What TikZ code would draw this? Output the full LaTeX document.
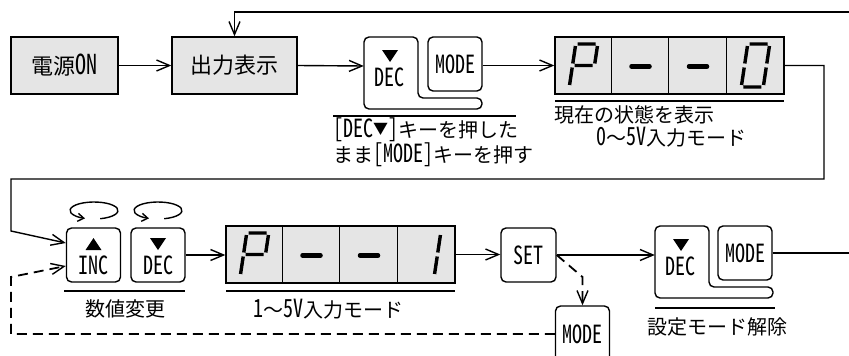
\documentclass[tikz,border=0pt]{standalone}
\usepackage{fontspec}
\setmainfont{Noto Sans CJK JP}
\newfontfamily\hw{Noto Sans CJK JP}[RawFeature=+hwid, Scale=1.25, FakeStretch=0.8]
\usetikzlibrary{arrows.meta}
\tikzset{
  ln/.style={line width=1.4pt},
  arr/.style={ln, -{Straight Barb[length=13pt,width=11pt,line width=1.4pt]}},
  darr/.style={ln, line width=1.8pt, dash pattern=on 10pt off 6pt, -{Straight Barb[length=13pt,width=11pt,line width=1.4pt]}},
  txt/.style={inner sep=0pt, font=\fontsize{20pt}{21pt}\selectfont},
  keytxt/.style={inner sep=0pt, font=\hw\fontsize{20pt}{21pt}\selectfont},
  gbox/.style={draw, ln, fill=black!10, inner sep=0pt, font=\fontsize{22pt}{24pt}\selectfont},
  key/.style={draw, ln, rounded corners=5pt, inner sep=0pt, minimum width=54pt, minimum height=54pt, font=\hw\fontsize{20pt}{21pt}\selectfont},
  disp/.style={draw, ln, fill=black!10, inner sep=0pt, minimum width=229pt, minimum height=57pt},
  seg/.style={line width=3.4pt},
  digP/.pic={\begin{scope}[xslant=0.15]
    \draw[seg] (-9,-21.5)--(9,-21.5) (11,-19.5)--(11,-2) (-11,-19.5)--(-11,-2) (-9,0)--(9,0) (-11,2)--(-11,19.5);
    \end{scope}},
  dig0/.pic={\begin{scope}[xslant=0.15]
    \draw[seg] (-9,-21.5)--(9,-21.5) (11,-19.5)--(11,-2) (11,2)--(11,19.5) (-9,21.5)--(9,21.5) (-11,2)--(-11,19.5) (-11,-19.5)--(-11,-2);
    \end{scope}},
  dig1/.pic={\begin{scope}[xslant=0.15]
    \draw[seg] (11,-19.5)--(11,-2) (11,2)--(11,19.5);
    \end{scope}},
  digM/.pic={\draw[line width=4.5pt, line cap=round] (-9,1)--(9,1);},
  circarr/.pic={\draw[ln, -{Straight Barb[length=6pt,width=8pt,line width=1.4pt]}] (75:24 and 8.5) arc[start angle=75, end angle=-248, x radius=24, y radius=8.5];}
}
\begin{document}
\begin{tikzpicture}[x=1pt,y=-1pt]
\useasboundingbox (0,0) rectangle (849,356);
\clip (0,0) rectangle (849,356);

% ---------- top row ----------
\node[gbox, minimum width=107pt, minimum height=57pt] (pwr) at (64.5,65.5) {電源{\hw ON}};
\node[gbox, minimum width=125pt, minimum height=57pt] (out) at (234.5,65.5) {出力表示};

% DEC + MODE combined key (top)
\node[inner sep=0pt, minimum width=54pt, minimum height=58pt] (dec1) at (391,66) {};
\draw[ln, rounded corners=5pt] (364,37) -- (418,37) -- (418,98) -- (482,98) -- (482,109) -- (364,109) -- cycle;
\fill (382,50) -- (398,50) -- (390,62) -- cycle;
\node[keytxt] (dec1t) at (389,77) {DEC};
\node[key] (mode1) at (455,64) {MODE};
\draw[ln] (333,116) -- (516,116);
\node[txt, anchor=west, align=left] (msg1) at (333,142) {{\hw [DEC}\raisebox{2.5pt}{\fontsize{15pt}{15pt}\selectfont ▼}{\hw ]}キーを押した\\まま{\hw [MODE]}キーを押す};

% display P--0
\node[disp] (disp1) at (669.5,65.5) {};
\foreach \dx in {57,114,172} \draw[ln] ([xshift=\dx pt]disp1.north west) -- ([xshift=\dx pt]disp1.south west);
\pic at (583.5,65.5) {digP};
\pic at (640.5,65.5) {digM};
\pic at (698,65.5) {digM};
\pic at (755.5,65.5) {dig0};
\draw[ln] (555,101) -- (784,101);
\node[txt, anchor=west] (st1) at (554,115) {現在の状態を表示};
\node[txt, anchor=west] (st2) at (596,137) {{\hw 0}～{\hw 5V}入力モード};

% ---------- bottom row ----------
\node[key] (inc) at (93.5,255) {};
\fill (85.5,250) -- (101.5,250) -- (93.5,238) -- cycle;
\node[keytxt] (inct) at (93.5,265) {INC};
\node[key] (dec2) at (158,255) {};
\fill (150,238) -- (166,238) -- (158,250) -- cycle;
\node[keytxt] (dec2t) at (158,265) {DEC};
\pic at (94,210.5) {circarr};
\pic at (158,210.5) {circarr};
\draw[ln] (64,291) -- (185,291);
\node[txt] (num) at (125,309) {数値変更};

\node[disp] (disp2) at (340.5,254.5) {};
\foreach \dx in {57,114,172} \draw[ln] ([xshift=\dx pt]disp2.north west) -- ([xshift=\dx pt]disp2.south west);
\pic at (254.5,254.5) {digP};
\pic at (311.5,254.5) {digM};
\pic at (369,254.5) {digM};
\pic at (426.5,254.5) {dig1};
\draw[ln] (226,291) -- (455,291);
\node[txt, anchor=west] (st3) at (253,309) {{\hw 1}～{\hw 5V}入力モード};

\node[key, minimum width=55pt] (set) at (528.5,255) {SET};

% DEC + MODE combined key (bottom)
\node[inner sep=0pt, minimum width=54pt, minimum height=58pt] (dec3) at (682,254) {};
\begin{scope}[shift={(291,189)}]
\draw[ln, rounded corners=5pt] (364,37) -- (418,37) -- (418,98) -- (482,98) -- (482,109) -- (364,109) -- cycle;
\fill (382,50) -- (398,50) -- (390,62) -- cycle;
\end{scope}
\node[keytxt] (dec3t) at (680,266) {DEC};
\node[key] (mode2) at (745,253) {MODE};
\draw[ln] (655,308) -- (775,308);
\node[txt] (rel) at (717,327) {設定モード解除};

\node[key, minimum height=56pt] (mode3) at (582.5,334) {MODE};

% ---------- connectors ----------
\draw[arr] (pwr.east) -- (out.west);
\coordinate (topR) at (849,12);
\draw[arr] (topR) -- (out.north |- topR) -- (out.north);
\draw[arr] (out.east) -- (dec1.west);
\draw[arr] (mode1.east |- disp1.west) -- (disp1.west);
\coordinate (c1) at (824,179);
\coordinate (c2) at (11,179);
\coordinate (c3) at (11,231);
\draw[arr] (disp1.east) -- (c1 |- disp1.east) -- (c1) -- (c2) -- (c3) -- ([yshift=12pt]inc.west);
\draw[arr] (dec2.east) -- (disp2.west |- dec2.east);
\draw[arr] (disp2.east) -- (set.west |- disp2.east);
\draw[arr] (set.east) -- (dec3.west |- set.east);
\coordinate (botR) at (849,253);
\draw[ln] (mode2.east) -- (botR);
\coordinate (d1) at (582.5,277);
\draw[darr] (set.east) -- (d1) -- (mode3.north);
\coordinate (d2) at (11,334);
\coordinate (d3) at (11,277);
\draw[darr] (mode3.west) -- (d2) -- (d3) -- ([yshift=-11pt]inc.west);
\end{tikzpicture}
\end{document}
